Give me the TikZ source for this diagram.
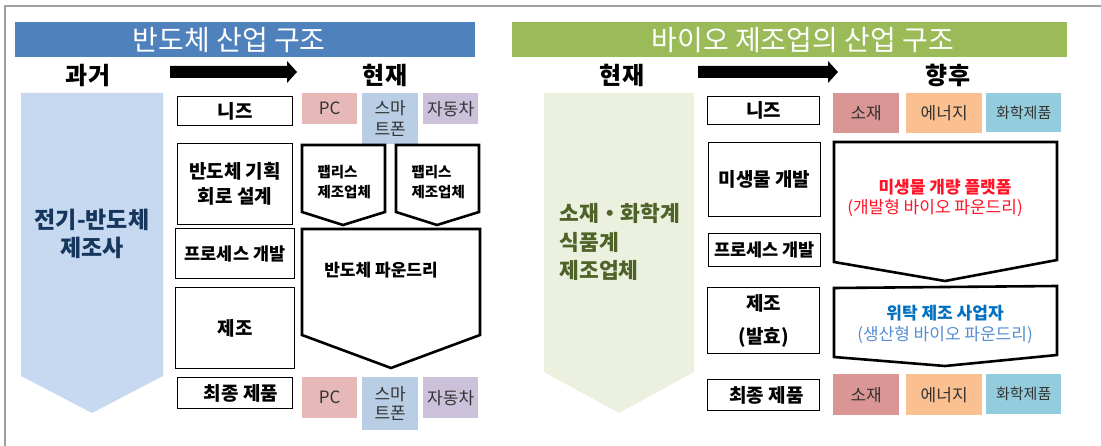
\documentclass[tikz,border=0pt]{standalone}
\usepackage{fontspec}
\setmainfont{Noto Sans CJK KR}
\definecolor{tblue}{RGB}{79,129,189}
\definecolor{tgreen}{RGB}{155,187,89}
\definecolor{lblue}{RGB}{198,217,240}
\definecolor{lgreen}{RGB}{235,241,222}
\definecolor{navy}{RGB}{23,54,93}
\definecolor{olive}{RGB}{79,98,40}
\definecolor{cpink}{RGB}{230,185,184}
\definecolor{cblue}{RGB}{185,205,229}
\definecolor{clav}{RGB}{204,193,218}
\definecolor{crose}{RGB}{217,150,148}
\definecolor{corange}{RGB}{250,192,144}
\definecolor{ccyan}{RGB}{147,205,221}
\definecolor{fgray}{RGB}{160,160,160}
\definecolor{pred}{RGB}{255,20,40}
\definecolor{pblue}{RGB}{0,112,192}
\definecolor{lbtext}{RGB}{85,142,213}
\newcommand{\fs}[1]{\fontsize{#1}{#1}\selectfont}
\begin{document}
\begin{tikzpicture}[x=1pt,y=-1pt,
  titlebar/.style={anchor=north west,inner sep=0,text=white,font=\fs{28}},
  header/.style={font=\fs{24}\bfseries},
  stagebox/.style={anchor=north west,draw=black,line width=1.1pt,fill=white,inner sep=0,align=center,font=\fs{19}\bfseries},
  colbox/.style={anchor=north west,inner sep=0,align=center,text=black!80,font=\fs{17}},
  chev/.style={draw=black,line width=2.6pt,fill=white,line join=miter},
  bigarrow/.style={fill=black},
]
\useasboundingbox (0,0) rectangle (1101,446);
\fill[white] (0,0) rectangle (1101,446);
\draw[fgray,line width=1.4pt] (5,446) -- (5,6) -- (1101,6);

% titles
\node[titlebar,fill=tblue,minimum width=460,minimum height=35] (t1) at (15,22) {반도체 산업 구조\hspace*{32pt}};
\node[titlebar,fill=tgreen,minimum width=555,minimum height=35] (t2) at (512,22) {\hspace*{26pt}바이오 제조업의 산업 구조};

% headers
\node[header] (h1) at (88,76) {과거};
\node[header] (h2) at (385,75) {현재};
\node[header] (h3) at (622,75) {현재};
\node[header] (h4) at (948,75) {향후};

% header arrows
\coordinate (a1s) at (170,72);
\coordinate (a1e) at (297,72);
\fill[bigarrow] ([yshift=-6]a1s) -- ([xshift=-10,yshift=-6]a1e) -- ([xshift=-10,yshift=-11]a1e) -- (a1e) -- ([xshift=-10,yshift=11]a1e) -- ([xshift=-10,yshift=6]a1e) -- ([yshift=6]a1s) -- cycle;
\coordinate (a2s) at (698,72);
\coordinate (a2e) at (838,72);
\fill[bigarrow] ([yshift=-6]a2s) -- ([xshift=-10,yshift=-6]a2e) -- ([xshift=-10,yshift=-11]a2e) -- (a2e) -- ([xshift=-10,yshift=11]a2e) -- ([xshift=-10,yshift=6]a2e) -- ([yshift=6]a2s) -- cycle;

% big chevrons
\fill[lblue] (21,93) -- (163,93) -- (163,376) -- (92,413) -- (21,376) -- cycle;
\node[align=center,text=navy,font=\fs{23}\bfseries] (lc) at (92,234) {전기-반도체\\[5pt]제조사};
\fill[lgreen] (544,93) -- (694,93) -- (694,372) -- (619,413) -- (544,372) -- cycle;
\node[anchor=west,align=left,text=olive,font=\fs{21.5}\bfseries] (rc) at (556,242) {소재・화학계\\[7pt]식품계\\[7pt]제조업체};

% left stage boxes
\node[stagebox,minimum width=115,minimum height=29] (nz1) at (177,96) {니즈};
\node[stagebox,minimum width=115,minimum height=81] (pl1) at (177,143) {반도체 기획\\[6pt]회로 설계};
\node[stagebox,minimum width=119,minimum height=50,font=\fs{17.5}\bfseries] (pr1) at (175,228) {프로세스 개발};
\node[stagebox,minimum width=119,minimum height=81] (mf1) at (175,287) {제조};
\node[stagebox,minimum width=115,minimum height=31] (fi1) at (177,377) {\hspace*{12pt}최종 제품};

% left colored boxes
\node[colbox,fill=cpink,minimum width=55,minimum height=31] (pc1) at (302,93) {PC};
\node[colbox,fill=cblue,minimum width=56,minimum height=51] (sp1) at (362,93) {스마\\[4pt]트폰};
\node[colbox,fill=clav,minimum width=55,minimum height=31] (ca1) at (423,93) {자동차};
\node[colbox,fill=cpink,minimum width=55,minimum height=41] (pc2) at (302,377) {PC};
\node[colbox,fill=cblue,minimum width=56,minimum height=53] (sp2) at (362,377) {스마\\[2pt]트폰};
\node[colbox,fill=clav,minimum width=55,minimum height=41] (ca2) at (423,377) {자동차};

% left chevrons
\draw[chev] (302,145) -- (385,145) -- (385,212) -- (343,225) -- (302,212) -- cycle;
\node[anchor=west,align=left,font=\fs{14.5}\bfseries] (fb1) at (314,182) {팹리스\\[5pt]제조업체};
\draw[chev] (396,145) -- (479,145) -- (479,212) -- (437,225) -- (396,212) -- cycle;
\node[anchor=west,align=left,font=\fs{14.5}\bfseries] (fb2) at (408,182) {팹리스\\[5pt]제조업체};
\draw[chev] (302,229) -- (480,229) -- (480,335) -- (391,368) -- (302,335) -- cycle;
\node[font=\fs{17}\bfseries] (fd1) at (381,270) {반도체 파운드리};

% right stage boxes
\node[stagebox,minimum width=112,minimum height=28] (nz2) at (707,96) {니즈};
\node[stagebox,minimum width=112,minimum height=74] (mi2) at (708,142) {미생물 개발};
\node[stagebox,minimum width=112,minimum height=33,font=\fs{17.5}\bfseries] (pr2) at (708,233) {프로세스 개발};
\node[stagebox,minimum width=112,minimum height=66] (mf2) at (707,287) {제조\\[14pt](발효)};
\node[stagebox,minimum width=112,minimum height=31] (fi2) at (707,379) {\hspace*{6pt}최종 제품};

% right colored boxes
\node[colbox,fill=crose,minimum width=66,minimum height=40] (so1) at (833,93) {소재};
\node[colbox,fill=corange,minimum width=76,minimum height=40] (en1) at (906,93) {에너지};
\node[colbox,fill=ccyan,minimum width=75,minimum height=39,font=\fs{15}] (ch1) at (986,93) {화학제품};
\node[colbox,fill=crose,minimum width=66,minimum height=41] (so2) at (833,374) {소재};
\node[colbox,fill=corange,minimum width=76,minimum height=41] (en2) at (906,374) {에너지};
\node[colbox,fill=ccyan,minimum width=75,minimum height=40,font=\fs{15}] (ch2) at (986,374) {화학제품};

% right chevrons
\draw[chev] (834,142) -- (1057,142) -- (1057,260) -- (945,281) -- (834,262) -- cycle;
\node[text=pred,font=\fs{17}\bfseries] (pt1) at (945,187) {미생물 개량 플랫폼};
\node[text=pred,font=\fs{17}] (pt2) at (935,208) {(개발형 바이오 파운드리)};
\draw[chev] (834,288) -- (1057,286) -- (1057,355) -- (945,366) -- (834,357) -- cycle;
\node[text=pblue,font=\fs{17}\bfseries] (ct1) at (945,313) {위탁 제조 사업자};
\node[text=lbtext,font=\fs{17}] (ct2) at (945,335) {(생산형 바이오 파운드리)};
\end{tikzpicture}
\end{document}
